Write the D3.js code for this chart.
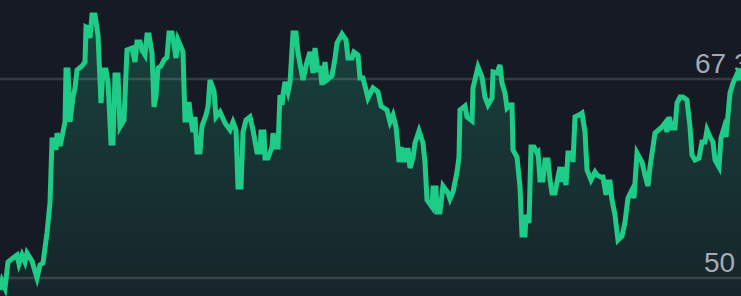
<!DOCTYPE html>
<html>
<head>
<meta charset="utf-8">
<script src="https://cdn.jsdelivr.net/npm/d3@7"></script>
<style>
  html, body { margin: 0; padding: 0; background: #161a25; overflow: hidden; }
  svg { display: block; }
</style>
</head>
<body>
<div class="chart"></div>
<script>
var width = 741;
var height = 296;

// time in minutes from start of window
var mins = [0,4,10,16,26,34,38,44,50,54,64,74,80,86,94,100,104,110,112,114,120,126,130,132,136,140,146,150,154,164,170,172,176,180,184,190,196,202,206,212,216,222,226,230,236,240,248,254,264,270,274,280,284,290,294,298,304,308,312,316,322,328,334,338,344,348,352,356,362,366,370,376,378,382,386,390,394,400,404,412,416,420,428,432,440,450,460,466,472,476,482,486,492,500,506,514,520,522,528,530,536,544,546,550,556,560,564,566,570,576,580,586,592,596,606,614,620,626,630,636,640,644,650,654,664,670,674,684,692,696,704,708,716,720,726,732,736,746,756,762,774,780,786,792,796,798,802,806,808,812,816,820,826,830,838,846,850,854,864,866,872,874,880,886,896,900,906,914,918,920,930,934,944,946,956,964,970,976,984,986,994,1000,1004,1010,1014,1020,1024,1026,1034,1040,1044,1050,1052,1058,1062,1068,1074,1076,1080,1086,1090,1096,1100,1104,1110,1114,1120,1122,1126,1132,1136,1144,1146,1150,1158,1164,1170,1174,1182,1190,1194,1202,1206,1212,1216,1220,1224,1230,1236,1244,1250,1256,1264,1268,1274,1284,1290,1296,1300,1310,1324,1330,1334,1338,1344,1350,1354,1360,1366,1374,1380,1384,1390,1398,1404,1410,1414,1420,1426,1430,1438,1442,1448,1452,1456,1460,1466,1474,1478,1482];
var price = [48960,49740,49130,51390,51740,52000,51220,52000,51390,52170,51480,50000,51130,51300,53910,56520,62000,62000,61130,62600,61470,62690,63560,68080,68080,63560,65730,66520,68080,68430,68780,71820,71730,70860,72860,72860,71120,65210,68080,68080,67040,61740,61740,67650,67650,63130,63730,69820,69990,68780,70520,70520,69820,69390,71120,71120,69560,64870,65820,68250,68430,68950,69210,71300,71300,70260,69120,70690,70080,69650,63730,63730,65300,63730,62690,64000,60950,60950,63210,64170,64870,67210,66260,64000,64430,63470,62870,63560,62870,57910,57910,62690,63730,64000,62870,60950,60950,62690,62690,60430,60430,61390,62600,61390,61390,65910,65040,65910,67040,66170,66950,71300,71300,69560,67210,68780,69650,67820,69990,67910,68430,66780,68780,67210,67560,69120,70430,71210,70690,69120,69120,69650,69390,67390,67390,66340,65650,66520,66170,64950,64600,63560,64170,63130,61390,60080,61390,60080,61300,60080,61300,59560,60430,61740,62780,61740,60000,56780,56170,57820,57820,55740,55740,58000,57390,56870,57480,59210,60520,64600,64950,64000,63650,66520,68340,67470,65730,65040,65650,67910,67820,68520,66950,66080,64780,65040,65040,61130,60520,57910,53740,53740,55480,54780,61390,61390,60870,60950,58520,58520,60260,60260,58520,57390,57390,58350,59650,58350,59650,58080,60870,60870,60080,64000,64170,64340,62690,59390,58520,59210,58950,58780,58780,57220,58350,58350,56780,55480,53300,53650,54870,56950,57650,56950,60870,60080,58950,58000,59650,62600,63130,63470,62690,64000,63040,63040,65210,65730,65730,65470,63130,60690,60260,60430,61820,61820,62870,62260,61820,60260,59650,62170,63040,62260,64170,66080,66950,67730,67210,68250];

var levels = [67300, 50000];
var levelLabels = ["67 3", "50"];

var svg = d3.select(".chart").append("svg")
    .attr("width", width)
    .attr("height", height);

svg.append("rect")
    .attr("width", width)
    .attr("height", height)
    .attr("fill", "#161a25");

var data = mins.map(function(m, i) { return {t: m, v: price[i]}; });

var x = d3.scaleLinear().domain([0, 1482]).range([0, width]);
var y = d3.scaleLinear().domain([50000, 67300]).range([278, 79]);

var defs = svg.append("defs");
var grad = defs.append("linearGradient")
    .attr("id", "fillgrad")
    .attr("gradientUnits", "userSpaceOnUse")
    .attr("x1", 0).attr("y1", 0)
    .attr("x2", 0).attr("y2", height);
grad.append("stop").attr("offset", "0%").attr("stop-color", "#1ecc87").attr("stop-opacity", 0.24);
grad.append("stop").attr("offset", "100%").attr("stop-color", "#1ecc87").attr("stop-opacity", 0.06);

var area = d3.area()
    .x(function(d) { return x(d.t); })
    .y0(height)
    .y1(function(d) { return y(d.v); });

var line = d3.line()
    .x(function(d) { return x(d.t); })
    .y(function(d) { return y(d.v); });

svg.append("path")
    .datum(data)
    .attr("d", area)
    .attr("fill", "url(#fillgrad)");

// level lines
svg.selectAll(".level")
    .data(levels)
  .enter().append("line")
    .attr("class", "level")
    .attr("x1", 0)
    .attr("x2", width)
    .attr("y1", function(d) { return y(d); })
    .attr("y2", function(d) { return y(d); })
    .attr("stroke", "rgba(255,255,255,0.14)")
    .attr("stroke-width", 2.5);

var labelX = [695, 704];
svg.selectAll(".lbl")
    .data(levelLabels)
  .enter().append("text")
    .attr("class", "lbl")
    .attr("x", function(d, i) { return labelX[i]; })
    .attr("y", function(d, i) { return y(levels[i]) - 6; })
    .attr("fill", "rgba(205,210,222,0.78)")
    .attr("font-family", "'Liberation Sans', Arial, sans-serif")
    .attr("font-size", 28)
    .text(function(d) { return d; });

svg.append("path")
    .datum(data)
    .attr("d", line)
    .attr("fill", "none")
    .attr("stroke", "#1ecc87")
    .attr("stroke-width", 5)
    .attr("stroke-linejoin", "miter");
</script>
</body>
</html>
